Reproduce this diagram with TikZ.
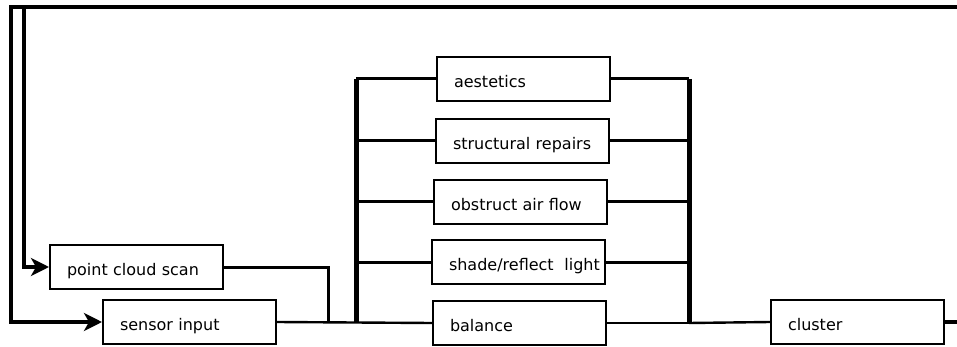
\documentclass[tikz,border=0pt]{standalone}
\usepackage{fontspec}
\setsansfont{DejaVu Sans}
\usetikzlibrary{arrows.meta}

\tikzset{
  box/.style={draw,line width=2pt,minimum width=173pt,minimum height=44pt,
    inner xsep=17pt,text width=139pt,align=left,text height=17pt,text depth=0pt,
    font=\sffamily\fontsize{16}{19}\selectfont},
  wire/.style={line width=3pt},
  thinwire/.style={line width=2.4pt},
  bus/.style={line width=5pt},
  feed/.style={line width=3.4pt,-{Stealth[length=18pt,width=18pt,inset=5pt]}}
}

\begin{document}
\begin{tikzpicture}[x=1pt,y=-1pt,thick]
    \useasboundingbox (0,0) rectangle (957,347);

    \node[box,anchor=west] (pcs) at (49,267) {point cloud scan};
    \node[box,anchor=west] (sens) at (102,322) {sensor input};

    \node[box,anchor=west] (aest) at (436,79) {aestetics};
    \node[box,anchor=west] (struc) at (435,141) {structural repairs};
    \node[box,anchor=west] (obst) at (433,202) {obstruct air flow};
    \node[box,anchor=west] (shade) at (431,262) {shade/reflect~ light};
    \node[box,anchor=west] (bal) at (432,323) {balance};

    \node[box,anchor=west] (clus) at (770,322) {cluster};

    % buses
    \coordinate (busLt) at (356,79);
    \coordinate (busLb) at (356,323);
    \coordinate (busRt) at (689,79);
    \coordinate (busRb) at (689,323);
    \coordinate (join) at (328,323);

    \draw[bus] (busLt)--(busLb);
    \draw[bus] (busRt)--(busRb);

    \foreach \n in {aest,struc,obst,shade}{
      \draw[wire] (\n.west)--(\n.west -| busLt);
      \draw[wire] (\n.east)--(\n.east -| busRt);
    }
    \draw[thinwire] (bal.east)--(busRb);

    % inputs
    \draw[wire] (pcs.east) -| (join);
    \draw[thinwire] (sens.east)--(bal.west);
    \draw[thinwire] (busRb)--(clus.west);

    % feedback, goes round off the right edge
    \coordinate (loopR) at (975,7);
    \coordinate (loopL) at (11,7);
    \coordinate (tap) at (24,7);
    \draw[feed] (clus.east) -| (loopR)--(loopL) |- (sens.west);
    \draw[feed] (tap) |- (pcs.west);
  \end{tikzpicture}
\end{document}
